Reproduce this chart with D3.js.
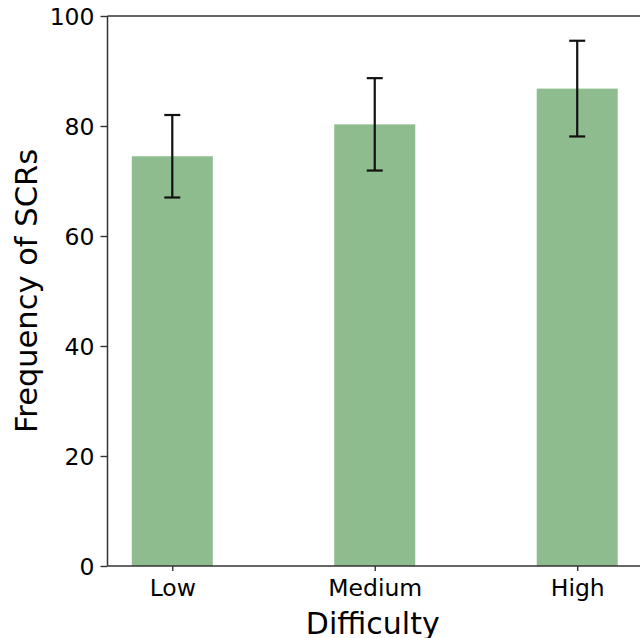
<!DOCTYPE html>
<html>
<head>
<meta charset="utf-8">
<script src="https://cdn.jsdelivr.net/npm/d3@7"></script>
<style>
  html, body { margin: 0; padding: 0; background: #fff; }
  svg { display: block; }
  text { font-family: "DejaVu Sans", sans-serif; fill: #000; }
</style>
</head>
<body>
<svg id="chart" width="640" height="638"></svg>
<script>
// Difficulty levels and mean SCR frequency with error margins
const categories = ["Low", "Medium", "High"];
const means = [74.5, 80.3, 86.8];
const errors = [7.5, 8.4, 8.7];
const yTicks = [0, 20, 40, 60, 80, 100];

const svg = d3.select("#chart");
const plotLeft = 107.5, plotTop = 16, plotBottom = 566;
const plotRight = 642;   // right edge of the axes box (runs past the canvas)

// numeric x positions 0..n-1 with matplotlib-style margins
const x = d3.scaleLinear().domain([-0.32, categories.length - 1 + 0.32]).range([plotLeft, plotRight]);
const y = d3.scaleLinear().domain([0, 100]).range([plotBottom, plotTop]);
const barWidth = 0.4;

const data = categories.map((c, i) => ({ c, i, m: means[i], e: errors[i] }));

// bars
svg.append("g").selectAll("rect").data(data).join("rect")
  .attr("x", d => x(d.i - barWidth / 2))
  .attr("width", d => x(barWidth) - x(0))
  .attr("y", d => y(d.m))
  .attr("height", d => y(0) - y(d.m))
  .attr("fill", "#8fbc8f");

// error bars
const eb = svg.append("g").attr("stroke", "#111").attr("stroke-width", 2.2).attr("fill", "none");
eb.selectAll("line.v").data(data).join("line").attr("class", "v")
  .attr("x1", d => x(d.i)).attr("x2", d => x(d.i))
  .attr("y1", d => y(d.m - d.e)).attr("y2", d => y(d.m + d.e));
const capHalf = 8;
["lo", "hi"].forEach(k => {
  eb.selectAll("line." + k).data(data).join("line").attr("class", k)
    .attr("x1", d => x(d.i) - capHalf).attr("x2", d => x(d.i) + capHalf)
    .attr("y1", d => y(k === "lo" ? d.m - d.e : d.m + d.e))
    .attr("y2", d => y(k === "lo" ? d.m - d.e : d.m + d.e));
});

// y axis
const yAxis = svg.append("g").attr("transform", `translate(${plotLeft},0)`)
  .call(d3.axisLeft(y).tickValues(yTicks).tickFormat(d3.format("d")).tickSize(7).tickPadding(6));
yAxis.select(".domain").remove();
yAxis.selectAll(".tick line").attr("stroke", "#333").attr("stroke-width", 1.4);
yAxis.selectAll(".tick text").style("font-size", "23.5px").attr("dy", "0.36em");

// x axis
const xAxis = svg.append("g").attr("transform", `translate(0,${plotBottom})`)
  .call(d3.axisBottom(x).tickValues(data.map(d => d.i)).tickFormat(i => categories[i]).tickSize(5).tickPadding(8.3));
xAxis.select(".domain").remove();
xAxis.selectAll(".tick line").attr("stroke", "#333").attr("stroke-width", 1.4);
xAxis.selectAll(".tick text").style("font-size", "23.5px").attr("dy", "0.71em");

// axes box
const spine = svg.append("g").attr("stroke", "#333").attr("stroke-width", 1.5).attr("fill", "none");
spine.append("line").attr("x1", plotLeft).attr("x2", plotLeft).attr("y1", y(100)).attr("y2", y(0));
spine.append("line").attr("x1", plotLeft).attr("x2", plotRight).attr("y1", y(0)).attr("y2", y(0));
spine.append("line").attr("x1", plotLeft).attr("x2", plotRight).attr("y1", y(100)).attr("y2", y(100));
spine.append("line").attr("x1", plotRight).attr("x2", plotRight).attr("y1", y(100)).attr("y2", y(0));

// axis titles
svg.append("text")
  .attr("x", x(1) - 2).attr("y", 634)
  .attr("text-anchor", "middle").style("font-size", "30px")
  .text("Difficulty");
svg.append("text")
  .attr("transform", `translate(37,${(plotTop + plotBottom) / 2}) rotate(-90)`)
  .attr("text-anchor", "middle").style("font-size", "30.5px")
  .text("Frequency of SCRs");
</script>
</body>
</html>
